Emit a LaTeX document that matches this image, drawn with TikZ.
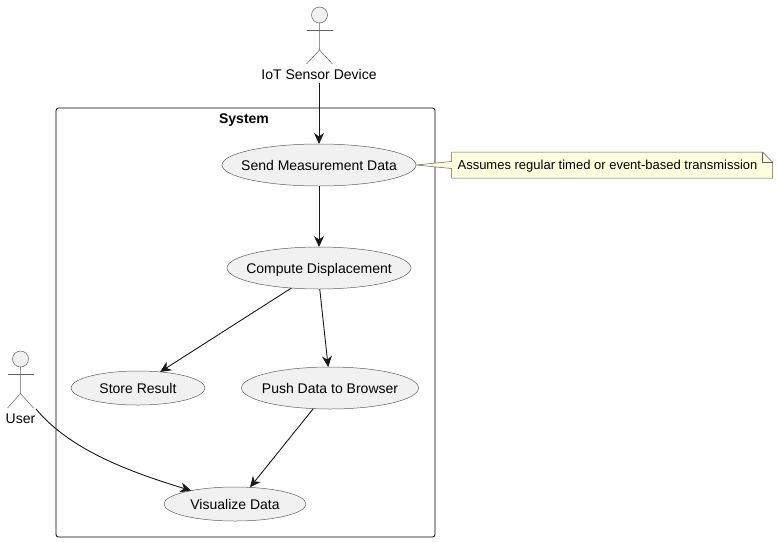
\documentclass[tikz,border=0pt]{standalone}
\usepackage{fontspec}
\setmainfont{Liberation Sans}
\usetikzlibrary{arrows.meta,shapes.geometric}
\definecolor{linec}{HTML}{181818}
\definecolor{softline}{HTML}{606060}
\definecolor{ufill}{HTML}{F1F1F1}
\definecolor{notef}{HTML}{FEFFDD}
\newcommand{\uctext}[1]{\makebox[0pt][c]{#1}}
\tikzset{
  usecase/.style={ellipse,draw=softline,fill=ufill,line width=.5pt,inner sep=0pt,outer sep=0pt,font=\fontsize{14}{16}\selectfont,text=black,text height=10pt,text depth=0pt},
  actorline/.style={draw=softline,line width=.5pt},
  actorhead/.style={circle,draw=softline,fill=ufill,line width=.5pt,minimum size=16pt,inner sep=0pt,outer sep=0pt},
  actorlabel/.style={inner sep=0pt,outer sep=0pt,font=\fontsize{14}{16}\selectfont,text height=10.5pt,text depth=3pt},
  flow/.style={draw=linec,line width=.9pt,-{Stealth[length=11pt,width=10pt,inset=3.5pt]}},
  notebox/.style={inner sep=0pt,outer sep=0pt,minimum width=321pt,minimum height=26pt},
  notetext/.style={inner sep=0pt,outer sep=0pt,font=\fontsize{13}{15}\selectfont}
}
\begin{document}
\begin{tikzpicture}[x=1pt,y=-1pt]
\useasboundingbox (0,0) rectangle (778,541);
\fill[white] (0,0) rectangle (778,541);
% system boundary
\node[draw=black,line width=.8pt,rounded corners=2.5pt,minimum width=379pt,minimum height=429pt,inner sep=0pt,outer sep=0pt] (system) at (245.5,322.5) {};
\node[inner sep=0pt,font=\bfseries\fontsize{14}{16}\selectfont] (systemlabel) at (244,120) {System};
% use cases
\node[usecase,minimum width=194pt,minimum height=42pt] (send) at (319,165) {\uctext{Send Measurement Data}};
\node[usecase,minimum width=184pt,minimum height=42pt] (compute) at (319,268) {\uctext{Compute Displacement}};
\node[usecase,minimum width=134pt,minimum height=34pt] (store) at (138,388) {\uctext{Store Result}};
\node[usecase,minimum width=177pt,minimum height=42pt] (push) at (330,388) {\uctext{Push Data to Browser}};
\node[usecase,minimum width=142pt,minimum height=34pt] (visual) at (235,504) {\uctext{Visualize Data}};
% IoT actor
\node[actorhead] (iothead) at (319.5,15) {};
\coordinate (iothip) at (319.5,50);
\coordinate (iotla) at (306.5,30);
\coordinate (iotra) at (332.5,30);
\coordinate (iotll) at (306.5,64);
\coordinate (iotrl) at (332.5,64);
\draw[actorline] (iothead) -- (iothip) -- (iotll);
\draw[actorline] (iothip) -- (iotrl);
\draw[actorline] (iotla) -- (iotra);
\node[actorlabel] (iotlabel) at (319,76) {IoT Sensor Device};
% User actor
\node[actorhead] (userhead) at (20.5,359) {};
\coordinate (userhip) at (20.5,393.5);
\coordinate (userla) at (7.5,374);
\coordinate (userra) at (33.5,374);
\coordinate (userll) at (7.5,408);
\coordinate (userrl) at (33.5,408);
\draw[actorline] (userhead) -- (userhip) -- (userll);
\draw[actorline] (userhip) -- (userrl);
\draw[actorline] (userla) -- (userra);
\node[actorlabel] (userlabel) at (20.5,420) {User};
% note
\node[notebox] (note) at (612,165) {};
\coordinate (notea) at (451.5,161.5);
\coordinate (noteb) at (451.5,168.5);
\coordinate (notetip) at ([xshift=-10pt]note.north east);
\coordinate (notefold) at ([yshift=-10pt]note.north east);
\draw[draw=softline,fill=notef,line width=.5pt,line join=miter] (send.east) -- (notea) -- (note.north west) -- (notetip) -- (notefold) -- (note.south east) -- (note.south west) -- (noteb) -- cycle;
\draw[draw=softline,line width=.5pt] (notetip) |- (notefold);
\node[notetext] (notelabel) at (607.5,166) {Assumes regular timed or event-based transmission};
% connectors
\draw[flow] (iotlabel.south) -- (send.north);
\draw[flow] (send.south) -- (compute.north);
\draw[flow] (compute.216) -- (store.36);
\draw[flow] (compute.272) -- (push.95);
\draw[flow] (push.231) -- (visual.48);
\coordinate (userstart) at (36,409);
\draw[flow] (userstart) .. controls (70,450) and (130,472) .. (visual.163);
\end{tikzpicture}
\end{document}
